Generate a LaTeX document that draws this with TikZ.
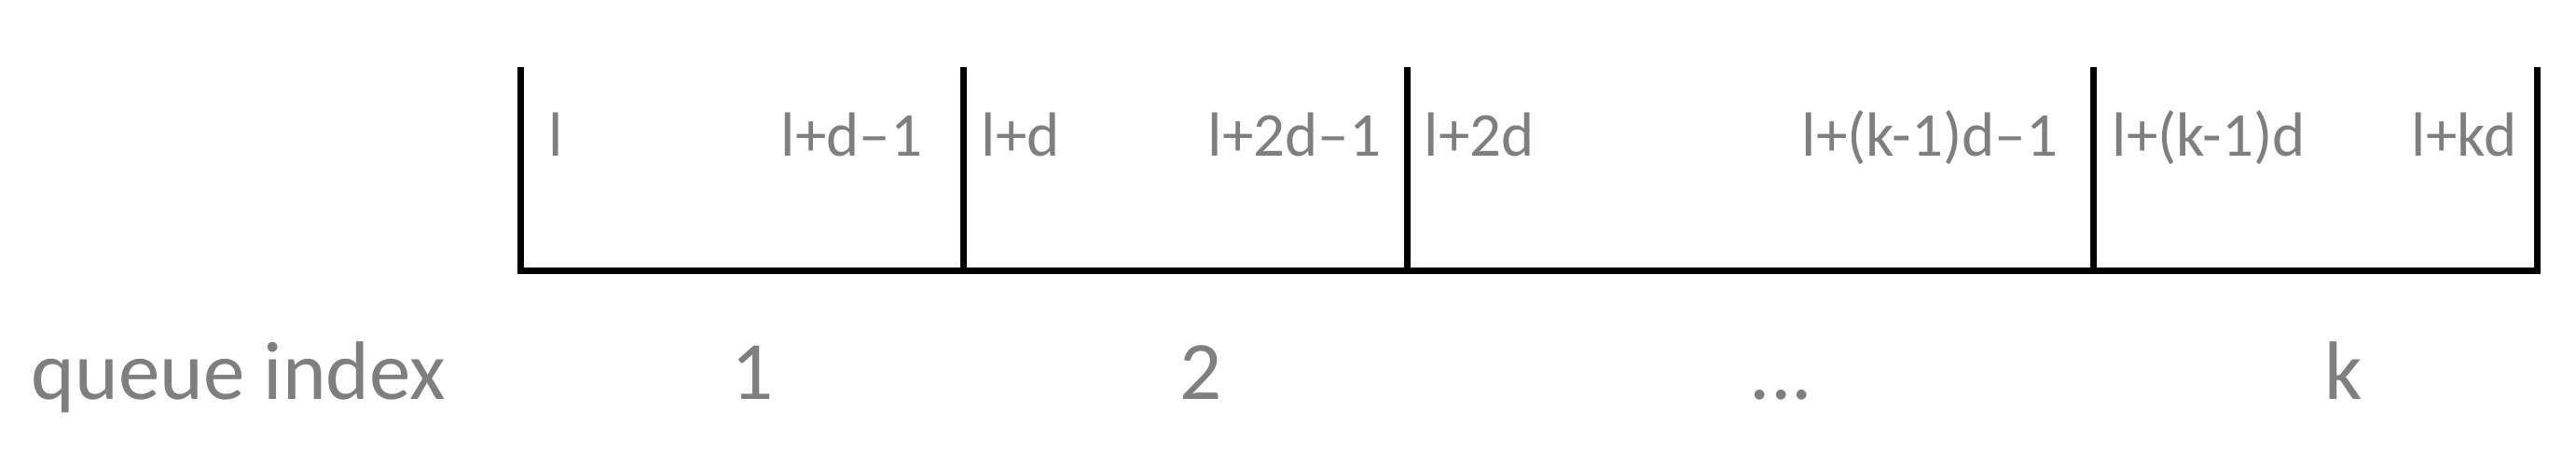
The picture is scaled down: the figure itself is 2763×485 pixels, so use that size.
\documentclass[tikz,border=0pt]{standalone}
\usepackage{fontspec}
\setmainfont{Carlito}
\definecolor{labelgray}{HTML}{7F7F7F}
\begin{document}
\begin{tikzpicture}[x=0.25pt,y=-0.25pt,
  bar/.style={draw=black,line width=1.75pt},
  toplabel/.style={text=labelgray,inner sep=0pt,anchor=base west,font=\fontsize{16.75pt}{20pt}\selectfont},
  botlabel/.style={text=labelgray,inner sep=0pt,anchor=base west,font=\fontsize{22.25pt}{26pt}\selectfont}]
\useasboundingbox (0,0) rectangle (2763,485);
% boundaries
\coordinate (t1) at (558,72);
\coordinate (t2) at (1033,72);
\coordinate (t3) at (1509,72);
\coordinate (t4) at (2245,72);
\coordinate (t5) at (2721,72);
\coordinate (b1) at (558,290);
\coordinate (b2) at (1033,290);
\coordinate (b3) at (1509,290);
\coordinate (b4) at (2245,290);
\coordinate (b5) at (2721,290);
\draw[bar,line join=miter] (t1) -- (b1) -- (b5) -- (t5);
\draw[bar] (t2) -- (b2);
\draw[bar] (t3) -- (b3);
\draw[bar] (t4) -- (b4);
% top labels
\node[toplabel] (l1) at (588,167) {l};
\node[toplabel] (l2) at (837,167) {l+d–1};
\node[toplabel] (l3) at (1052,167) {l+d};
\node[toplabel] (l4) at (1295,167) {l+2d–1};
\node[toplabel] (l5) at (1527,167) {l+2d};
\node[toplabel] (l6) at (1932,167) {l+(k-1)d–1};
\node[toplabel] (l7) at (2265,167) {l+(k-1)d};
\node[toplabel] (l8) at (2586,167) {l+kd};
% bottom labels
\node[botlabel] (qi) at (33,428) {queue index};
\node[botlabel] (q1) at (784,428) {1};
\node[botlabel] (q2) at (1265,428) {2};
\node[botlabel] (qd) at (1876,428) {...};
\node[botlabel] (qk) at (2493,428) {k};
\end{tikzpicture}
\end{document}
